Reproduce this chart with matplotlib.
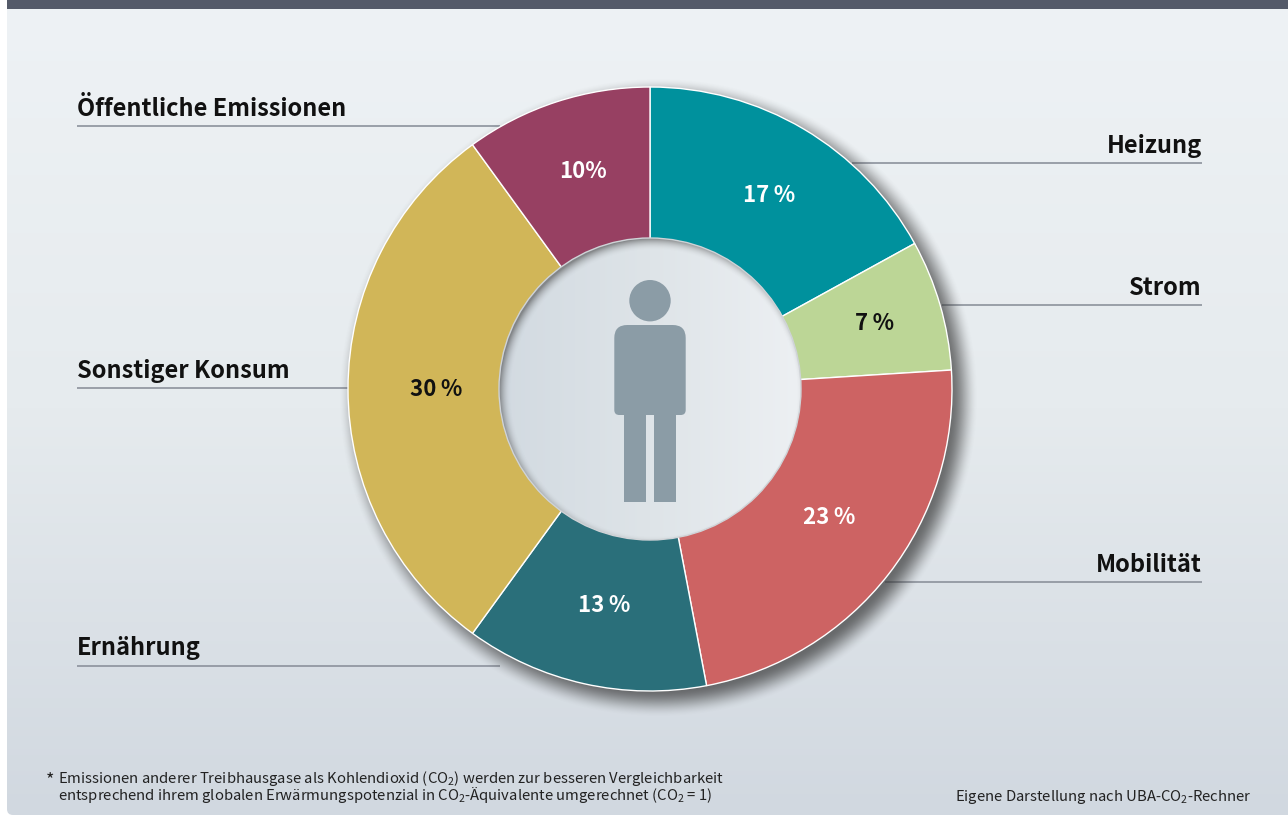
import numpy as np
import matplotlib
matplotlib.use('Agg')
import matplotlib.pyplot as plt
from matplotlib.colors import LinearSegmentedColormap
from matplotlib.patches import Circle, FancyBboxPatch, PathPatch, Rectangle
from matplotlib.path import Path

FONT = ['Noto Sans CJK JP', 'DejaVu Sans']
plt.rcParams['font.family'] = FONT
plt.rcParams['mathtext.fontset'] = 'custom'
plt.rcParams['mathtext.rm'] = 'Noto Sans CJK JP'
plt.rcParams['mathtext.default'] = 'rm'

# shares per person, clockwise from the top
categories = ['Heizung', 'Strom', 'Mobilität', 'Ernährung', 'Sonstiger Konsum', 'Öffentliche Emissionen']
values = [17, 7, 23, 13, 30, 10]
colors = ['#00919d', '#bcd696', '#cd6363', '#2a6f7a', '#d1b658', '#974062']
value_colors = ['white', '#111111', 'white', 'white', '#111111', 'white']
value_spaces = ['\u2009', '\u2009', '\u2009', '\u2009', '\u2009', '']

footnote = ('Emissionen anderer Treibhausgase als Kohlendioxid (CO$_2$) werden zur besseren Vergleichbarkeit\n'
            'entsprechend ihrem globalen Erwärmungspotenzial in CO$_2$-Äquivalente umgerechnet (CO$_2$ = 1)')
source = 'Eigene Darstellung nach UBA-CO$_2$-Rechner'

# ring geometry and label layout, in pixels
cx, cy = 650, 389
r_out, r_in = 302, 151
value_xy = [(769, 195), (875, 324), (829, 517), (604, 606), (436, 389), (583, 172)]
# leader line: y, x start, x end, label side
leaders = [(163, 852, 1202, 'right'), (305, 942, 1202, 'right'), (582, 885, 1202, 'right'),
           (665.5, 77, 500, 'left'), (388, 77, 350, 'left'), (125.5, 77, 500, 'left')]

fig = plt.figure(figsize=(12.88, 8.16), dpi=100, facecolor='white')
ax = fig.add_axes([0, 0, 1, 1])

# panel background with vertical gradient
bg_cmap = LinearSegmentedColormap.from_list('bg', ['#eef2f5', '#e6ebee', '#d1d8e0'])
panel = FancyBboxPatch((7, -20), 1300, 835, boxstyle='round,pad=0,rounding_size=6',
                       fc='none', ec='none', transform=ax.transData)
ax.add_patch(panel)
bg = ax.imshow(np.linspace(0, 1, 256).reshape(-1, 1), cmap=bg_cmap, aspect='auto',
               extent=(7, 1288, 816, 0), zorder=0)
bg.set_clip_path(panel)
ax.add_patch(Rectangle((7, 0), 1281, 9, fc='#545a69', ec='none', zorder=1))

# leader lines sit under the ring
for y, x0, x1, side in leaders:
    ax.plot([x0, x1], [y, y], color='#8c929c', lw=1.2, zorder=2, solid_capstyle='butt')

# soft drop shadow to the lower right
yy, xx = np.mgrid[60:760, 320:1000]
d = np.hypot(xx - (cx + 8), yy - (cy + 8))
a = np.clip((r_out + 18 - d) / 28, 0, 1)
a = a * a * (3 - 2 * a) * 0.68
shadow = np.zeros(d.shape + (4,))
shadow[..., :3] = 0.2
shadow[..., 3] = a
ax.imshow(shadow, extent=(320, 1000, 760, 60), aspect='auto', zorder=3)

# the ring; y axis is inverted so theta runs clockwise on screen
ax.pie(values, colors=colors, center=(cx, cy), radius=r_out, startangle=-90, counterclock=True,
       wedgeprops=dict(edgecolor='white', linewidth=1.0, zorder=4))

# centre disc with horizontal gradient and inner shadow
disc_cmap = LinearSegmentedColormap.from_list('disc', ['#d2dae1', '#dee4e8', '#edf0f3'])
disc_clip = Circle((cx, cy), r_in, fc='none', ec='#cfd3d7', lw=1.0, zorder=7)
ax.add_patch(disc_clip)
disc = ax.imshow(np.linspace(0, 1, 256).reshape(1, -1), cmap=disc_cmap, aspect='auto',
                 extent=(cx - r_in, cx + r_in, cy + r_in, cy - r_in), zorder=5)
disc.set_clip_path(disc_clip)

# inner shadow is offset so only the upper left edge gets dark
yy, xx = np.mgrid[cy - r_in:cy + r_in + 1, cx - r_in:cx + r_in + 1]
d = np.hypot(xx - (cx + 4), yy - (cy + 4))
a = np.clip((d - (r_in - 8)) / 12, 0, 1) ** 2 * 0.6
inner = np.zeros(d.shape + (4,))
inner[..., :3] = 0.3
inner[..., 3] = a
ins = ax.imshow(inner, extent=(cx - r_in, cx + r_in, cy + r_in, cy - r_in), aspect='auto', zorder=6)
ins.set_clip_path(disc_clip)

# person pictogram
person = '#8b9ca6'
ax.add_patch(Circle((650, 300.7), 20.7, fc=person, ec='none', zorder=8))
x0, x1, y0, y1 = 614.3, 685.7, 325, 415
rt, rb = 13, 5
body = Path([(x0 + rt, y0), (x1 - rt, y0), (x1, y0), (x1, y0 + rt), (x1, y1 - rb), (x1, y1), (x1 - rb, y1),
             (x0 + rb, y1), (x0, y1), (x0, y1 - rb), (x0, y0 + rt), (x0, y0), (x0 + rt, y0), (x0 + rt, y0)],
            [Path.MOVETO, Path.LINETO, Path.CURVE3, Path.CURVE3, Path.LINETO, Path.CURVE3, Path.CURVE3,
             Path.LINETO, Path.CURVE3, Path.CURVE3, Path.LINETO, Path.CURVE3, Path.CURVE3, Path.CLOSEPOLY])
ax.add_patch(PathPatch(body, fc=person, ec='none', zorder=8))
ax.add_patch(Rectangle((624, 410), 21.7, 91.7, fc=person, ec='none', zorder=8))
ax.add_patch(Rectangle((654.3, 410), 21.4, 91.7, fc=person, ec='none', zorder=8))

# percentages inside the ring
for v, sp, (x, y), c in zip(values, value_spaces, value_xy, value_colors):
    ax.text(x, y, f'{v}{sp}%', color=c, fontsize=16, fontweight='bold', ha='center', va='center',
            zorder=9, family=FONT)

# category labels on the leader lines
for name, (y, x0, x1, side) in zip(categories, leaders):
    tx = x1 if side == 'right' else x0
    ax.text(tx, y - 10, name, color='#111111', fontsize=17, fontweight='bold', ha=side, va='baseline', zorder=9)

# footer
ax.text(46, 785, '*', color='#222222', fontsize=13, ha='left', va='baseline', zorder=9)
ax.text(58, 800, footnote, color='#222222', fontsize=10.7, ha='left', va='baseline', linespacing=0.78, zorder=9)
ax.text(1252, 801, source, color='#222222', fontsize=10.7, ha='right', va='baseline', zorder=9)

ax.set_xlim(0, 1288)
ax.set_ylim(816, 0)
ax.set_aspect('auto')
ax.axis('off')

fig.savefig('out.png', dpi=100)
